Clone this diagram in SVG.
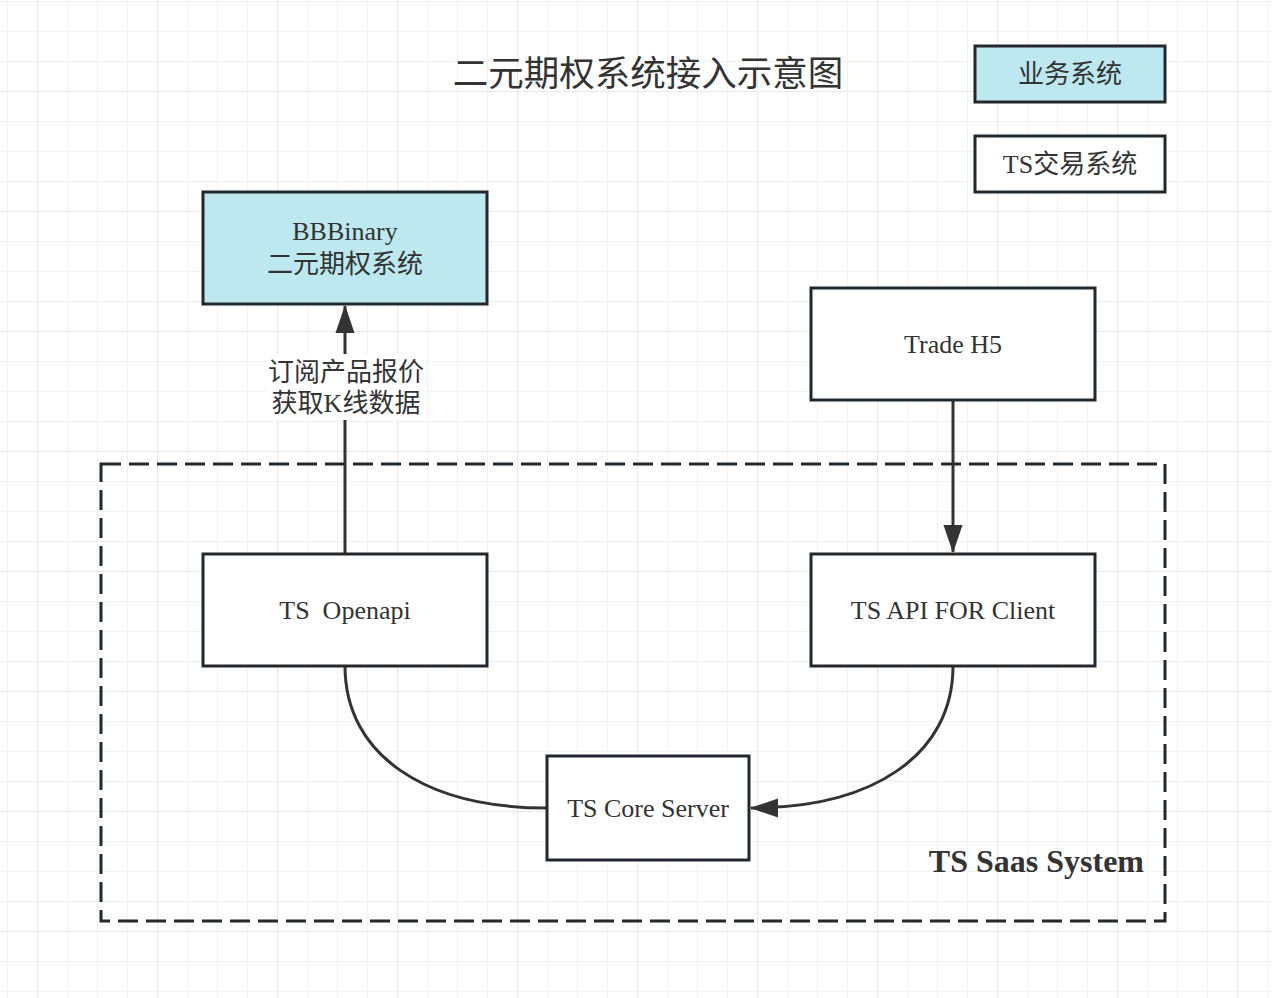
<svg xmlns="http://www.w3.org/2000/svg" width="1272" height="998" viewBox="0 0 1272 998">
<defs>
<pattern id="minor" x="7" y="1" width="30" height="30" patternUnits="userSpaceOnUse">
<path d="M0,0 V30 M0,0 H30" fill="none" stroke="#f2f2f2" stroke-width="2"/>
</pattern>
<pattern id="major" x="37" y="91" width="120" height="120" patternUnits="userSpaceOnUse">
<path d="M0,0 V120 M0,0 H120" fill="none" stroke="#e9e9e9" stroke-width="2"/>
</pattern>
<marker id="arrow" viewBox="0 0 28 20" refX="27" refY="10" markerWidth="28" markerHeight="20" markerUnits="userSpaceOnUse" orient="auto">
<path d="M0,0.5 L28,10 L0,19.5 Z" fill="#333333"/>
</marker>
</defs>
<style>
.node{stroke:#23282d;stroke-width:3;}
.biz{fill:#bde8ef;}
.ts{fill:#ffffff;}
.lbl{font-family:"Liberation Serif","Noto Sans CJK SC",serif;font-size:26px;fill:#333333;text-anchor:middle;}
.conn{fill:none;stroke:#333333;stroke-width:3;}
</style>
<rect width="1272" height="998" fill="#ffffff"/>
<rect width="1272" height="998" fill="url(#minor)"/>
<rect width="1272" height="998" fill="url(#major)"/>

<g id="saas-system">
<rect x="101" y="464" width="1064" height="457" fill="none" stroke="#23282d" stroke-width="3" stroke-dasharray="20 8"/>
<text x="1144" y="872" style="font-family:'Liberation Serif',serif;font-size:32px;font-weight:bold;fill:#333333;text-anchor:end">TS Saas System</text>
</g>

<g id="title">
<text x="648" y="86" style="font-family:'Liberation Serif','Noto Sans CJK SC',serif;font-size:35.5px;fill:#333333;text-anchor:middle">二元期权系统接入示意图</text>
</g>

<g id="legend-biz">
<rect class="node biz" x="975" y="46" width="190" height="56"/>
<text class="lbl" x="1070" y="83">业务系统</text>
</g>
<g id="legend-ts">
<rect class="node ts" x="975" y="136" width="190" height="56"/>
<text class="lbl" x="1070" y="173">TS交易系统</text>
</g>

<g id="connectors">
<line class="conn" x1="345" y1="554" x2="345" y2="306" marker-end="url(#arrow)"/>
<line class="conn" x1="953" y1="400" x2="953" y2="552" marker-end="url(#arrow)"/>
<path class="conn" d="M345,666 C345,755 425,808 547,808"/>
<path class="conn" d="M953,666 C953,755 873,808 751,808" marker-end="url(#arrow)"/>
<g id="conn-label">
<rect x="266" y="354" width="160" height="66" fill="#ffffff"/>
<text class="lbl" x="346" y="381">订阅产品报价</text>
<text class="lbl" x="346" y="412">获取K线数据</text>
</g>
</g>

<g id="bbbinary">
<rect class="node biz" x="203" y="192" width="284" height="112"/>
<text class="lbl" x="345" y="240">BBBinary</text>
<text class="lbl" x="345" y="273">二元期权系统</text>
</g>
<g id="trade-h5">
<rect class="node ts" x="811" y="288" width="284" height="112"/>
<text class="lbl" x="953" y="353">Trade H5</text>
</g>
<g id="ts-openapi">
<rect class="node ts" x="203" y="554" width="284" height="112"/>
<text class="lbl" x="345" y="619" xml:space="preserve">TS  Openapi</text>
</g>
<g id="ts-api-client">
<rect class="node ts" x="811" y="554" width="284" height="112"/>
<text class="lbl" x="953" y="619">TS API FOR Client</text>
</g>
<g id="ts-core-server">
<rect class="node ts" x="547" y="756" width="202" height="104"/>
<text class="lbl" x="648" y="817">TS Core Server</text>
</g>
</svg>
